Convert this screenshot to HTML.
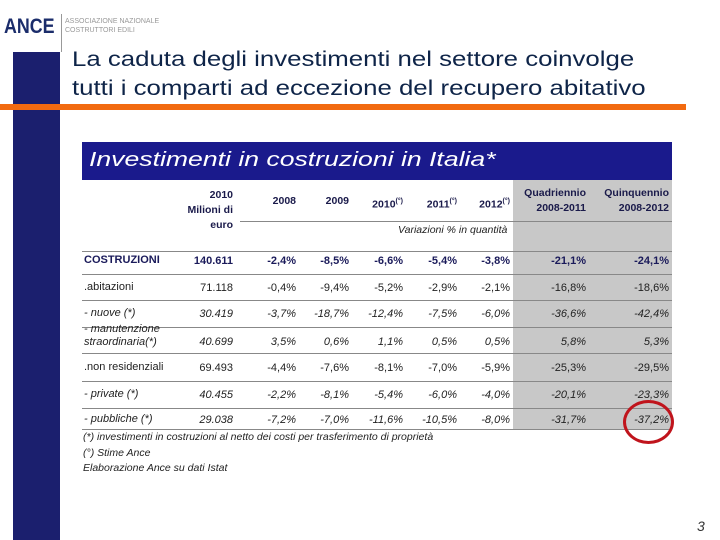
<!DOCTYPE html>
<html><head><meta charset="utf-8"><style>
body{margin:0;width:720px;height:540px;background:#fff;position:relative;overflow:hidden;font-family:"Liberation Sans",sans-serif}
.a{position:absolute;white-space:nowrap}
.r{text-align:right}
.t{font-size:11px;color:#222}
.h{font-size:10.5px;font-weight:bold;color:#1a1a4a}
.hl{position:absolute;height:1px;background:#888}
sup{font-size:7px}
</style></head><body>
<div class="a" style="left:13px;top:52px;width:47px;height:488px;background:#1b1f6e"></div>
<div class="a" style="left:4px;top:15px;font-size:21px;font-weight:bold;color:#1b2d6b;transform:scaleX(.85);transform-origin:left">ANCE</div>
<div class="a" style="left:61px;top:14px;width:1px;height:38px;background:#999"></div>
<div class="a" style="left:65px;top:17px;font-size:7px;color:#999;line-height:9px">ASSOCIAZIONE NAZIONALE<br>COSTRUTTORI EDILI</div>
<div class="a" style="left:72px;top:45px;font-size:21.5px;line-height:29px;color:#0e2448;transform:scaleX(1.2);transform-origin:left">La caduta degli investimenti nel settore coinvolge<br>tutti i comparti ad eccezione del recupero abitativo</div>
<div class="a" style="left:0;top:104px;width:686px;height:6px;background:#f26a10"></div>
<div class="a" style="left:82px;top:142px;width:590px;height:38px;background:#1a1a8c"></div>
<div class="a" style="left:89px;top:149px;font-size:20px;font-style:italic;color:#fff;transform:scaleX(1.33);transform-origin:left">Investimenti in costruzioni in Italia*</div>
<div class="a" style="left:513px;top:180px;width:159px;height:250px;background:#c8c8c8"></div>
<div id="tbl"></div>
<div class="a" style="left:623px;top:400px;width:45px;height:38px;border:3px solid #c0141c;border-radius:50%"></div>
<div class="a t" style="left:83px;top:431px;font-style:italic;font-size:10.5px">(*) investimenti in costruzioni al netto dei costi per trasferimento di proprietà</div>
<div class="a t" style="left:83px;top:447px;font-style:italic;font-size:10.5px">(°) Stime Ance</div>
<div class="a t" style="left:83px;top:462px;font-style:italic;font-size:10.5px">Elaborazione Ance su dati Istat</div>
<div class="a" style="left:697px;top:518px;font-size:14px;font-style:italic;color:#333">3</div>
<script>
const rights=[233,296,349,403,457,510,586,669];
const headers=["2010<br>Milioni di<br>euro","2008","2009","2010<sup>(°)</sup>","2011<sup>(°)</sup>","2012<sup>(°)</sup>","Quadriennio<br>2008-2011","Quinquennio<br>2008-2012"];
const rowLabels=["COSTRUZIONI",".abitazioni"," - nuove (*)"," - manutenzione<br>straordinaria(*)",".non residenziali"," - private (*)"," - pubbliche (*)"];
const rowValues=[
["140.611","-2,4%","-8,5%","-6,6%","-5,4%","-3,8%","-21,1%","-24,1%"],
["71.118","-0,4%","-9,4%","-5,2%","-2,9%","-2,1%","-16,8%","-18,6%"],
["30.419","-3,7%","-18,7%","-12,4%","-7,5%","-6,0%","-36,6%","-42,4%"],
["40.699","3,5%","0,6%","1,1%","0,5%","0,5%","5,8%","5,3%"],
["69.493","-4,4%","-7,6%","-8,1%","-7,0%","-5,9%","-25,3%","-29,5%"],
["40.455","-2,2%","-8,1%","-5,4%","-6,0%","-4,0%","-20,1%","-23,3%"],
["29.038","-7,2%","-7,0%","-11,6%","-10,5%","-8,0%","-31,7%","-37,2%"]];
const rowY=[254,281,307,335,361,388,413];
const lineY=[251,274,300,327,353,381,408,429];
const T=document.getElementById('tbl');
function add(html,cls,style){const d=document.createElement('div');d.className='a '+cls;d.innerHTML=html;d.setAttribute('style',style);T.appendChild(d);return d;}
headers.forEach((h,i)=>{const d=add(h,'h r','right:'+(720-rights[i])+'px;top:'+(i==0?188:(i>5?186:194))+'px;line-height:15px');

});
let v=add('Variazioni % in quantità','t','left:398px;top:224px;font-style:italic;font-size:10.5px');


let hl=add('','hl','left:240px;top:221px;width:432px');


lineY.forEach(y=>{const l=add('','hl','left:82px;top:'+y+'px;width:590px');

});
rowLabels.forEach((lab,r)=>{
 const bold=r==0,ital=r==2||r==3||r==5||r==6;
 const st='font-weight:'+(bold?'bold':'normal')+';font-style:'+(ital?'italic':'normal')+';'+(bold?'color:#1a1a5a;':'');
 const ly=r==3?rowY[r]-12:rowY[r];
 const l=add(lab,'t',st+'left:84px;top:'+ly+'px;line-height:13px');
 
 
 rowValues[r].forEach((val,c)=>{const d=add(val,'t r',st+'right:'+(720-rights[c])+'px;top:'+rowY[r]+'px;line-height:14px');
 
 });
});
</script>
</body></html>
